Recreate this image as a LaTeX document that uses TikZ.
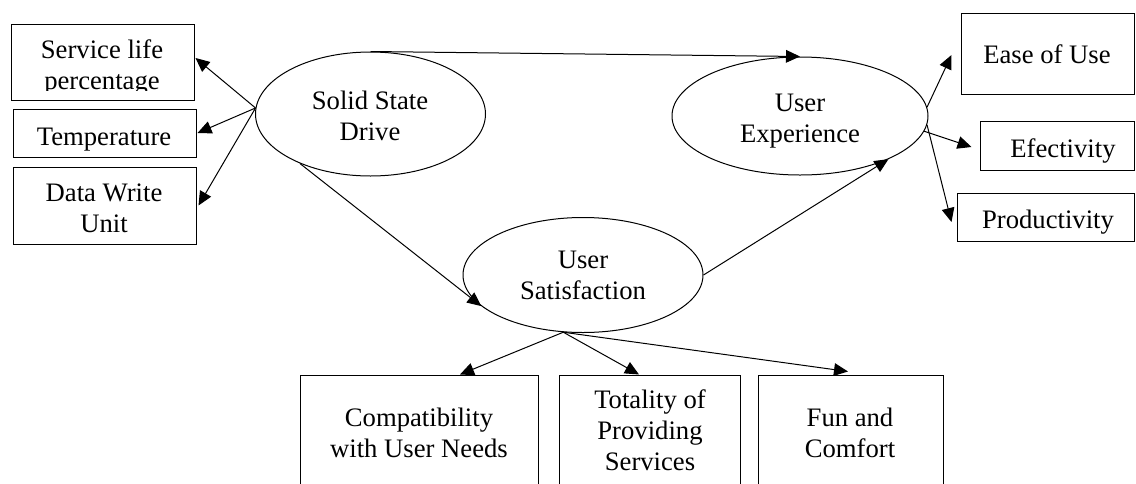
\documentclass[tikz,border=0pt]{standalone}
\usepackage{fontspec}
\setmainfont{Liberation Serif}
\usetikzlibrary{arrows.meta,calc,shapes.geometric}
\begin{document}
\begin{tikzpicture}[x=0.75pt,y=-0.75pt,
  box/.style={draw,line width=0.75pt,rectangle,inner sep=0pt},
  oval/.style={draw,line width=0.75pt,ellipse,inner sep=0pt},
  lbl/.style={anchor=base,align=center,inner sep=0pt,font=\fontsize{20}{23}\selectfont},
  conn/.style={line width=0.75pt,-{Triangle[length=10.5pt,width=9.5pt]}}]
\useasboundingbox (0,0) rectangle (1136,483);
\clip (0,0) rectangle (1136,483);

% indicator boxes of the drive
\node[box,minimum width=137.25pt,minimum height=57pt] (svc) at (102.5,62) {};
\node[box,minimum width=137.25pt,minimum height=36pt] (temp) at (104.5,133) {};
\node[box,minimum width=137.25pt,minimum height=57.75pt] (dwu) at (104.5,205.5) {};

% indicator boxes of the experience
\node[box,minimum width=129.75pt,minimum height=60.75pt] (ease) at (1047.5,53.5) {};
\node[box,minimum width=115.5pt,minimum height=36.75pt] (efect) at (1057,145.5) {};
\node[box,minimum width=132.75pt,minimum height=36pt] (prod) at (1045.5,217) {};

% indicator boxes of the satisfaction
\node[box,minimum width=178.5pt,minimum height=93.75pt] (compat) at (419,437.5) {};
\node[box,minimum width=135.75pt,minimum height=93.75pt] (total) at (649.5,437.5) {};
\node[box,minimum width=138.75pt,minimum height=93.75pt] (fun) at (850.5,437.5) {};

% latent variables
\node[oval,minimum width=172.5pt,minimum height=93pt] (ssd) at (370.5,114) {};
\node[oval,minimum width=192pt,minimum height=88.5pt] (ue) at (800,116) {};
\node[oval,minimum width=180pt,minimum height=86.25pt] (us) at (583,275) {};

% labels (multi-line labels sit on the baseline of their last line)
\begin{scope}
  \clip (11,24) rectangle (194,90);
  \node[lbl] (svct) at (102,89) {Service life\\percentage};
\end{scope}
\node[lbl] (tempt) at (104,145) {Temperature};
\node[lbl] (dwut) at (104,232) {Data Write\\Unit};
\node[lbl] (easet) at (1047,63) {Ease of Use};
\node[lbl] (efectt) at (1063,157) {Efectivity};
\node[lbl] (prodt) at (1048,228) {Productivity};
\node[lbl] (compatt) at (419,457) {Compatibility\\with User Needs};
\node[lbl] (totalt) at (650,470) {Totality of\\Providing\\Services};
\node[lbl] (funt) at (850,457) {Fun and\\Comfort};
\node[lbl] (ssdt) at (370,140) {Solid State\\Drive};
\node[lbl] (uet) at (800,142) {User\\Experience};
\node[lbl] (ust) at (583,299) {User\\Satisfaction};

% connectors
\draw[conn] (ssd.177) -- ($(svc.east)+(1,-4)$);
\draw[conn] (ssd.177) -- ($(temp.east)+(1,0)$);
\draw[conn] (ssd.177) -- ($(dwu.east)+(2,0)$);
\draw[conn] (ssd.north) -- (ue.north);
\draw[conn] (ssd.215) -- (us.197);
\draw[conn] (us.east) -- (ue.334);
\draw[conn] (ue.4) -- ($(ease.west)+(-9,1.5)$);
\draw[conn] (ue.-7) -- ($(efect.west)+(-8,1.5)$);
\draw[conn] (ue.-4) -- ($(prod.west)+(-5,5)$);
\draw[conn] (us.251) -- ($(compat.north)+(41,0)$);
\draw[conn] (us.251) -- ($(total.north)+(-10.5,0)$);
\draw[conn] (us.251) -- ($(fun.north)+(-2.5,-3)$);
\end{tikzpicture}
\end{document}
